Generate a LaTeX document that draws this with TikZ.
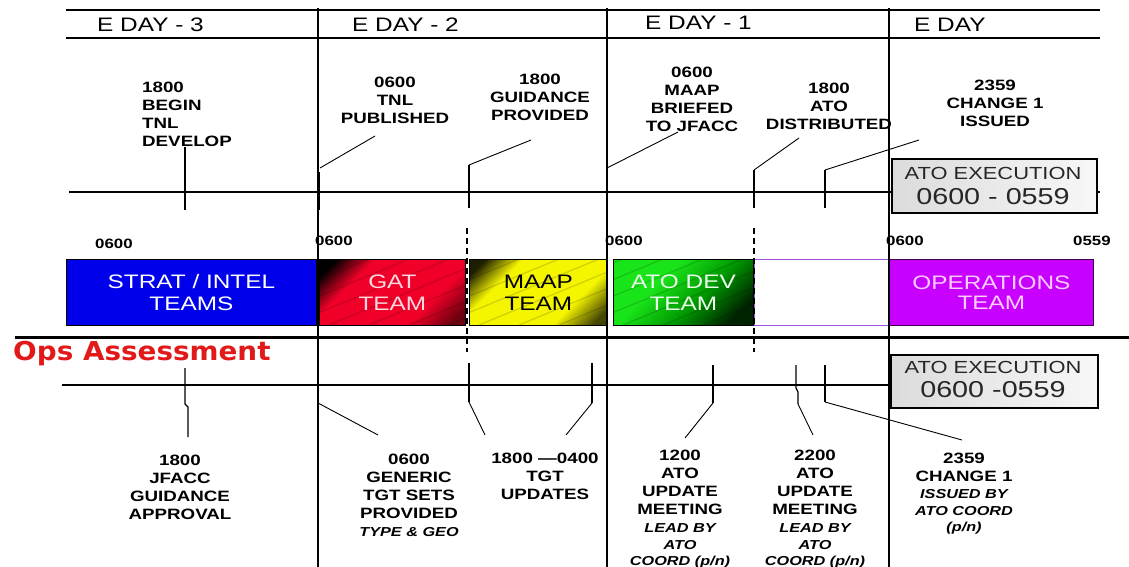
\documentclass[tikz,border=0pt]{standalone}
\usepackage{tikz}
\usepackage{fontspec}
\setmainfont{Liberation Sans}[FakeStretch=1.25]
\newfontfamily\opsfont{DejaVu Sans}[FakeStretch=1.07]
\definecolor{barblue}{RGB}{0,0,235}
\definecolor{gatred}{RGB}{240,0,40}
\definecolor{gatdark}{RGB}{110,0,15}
\definecolor{maapyel}{RGB}{245,245,0}
\definecolor{maapdark}{RGB}{70,70,0}
\definecolor{maapblk}{RGB}{30,30,0}
\definecolor{atogrn}{RGB}{25,228,25}
\definecolor{atomid}{RGB}{0,150,0}
\definecolor{atodark}{RGB}{0,35,0}
\definecolor{opsmag}{RGB}{200,0,255}
\definecolor{emptyvio}{RGB}{160,80,225}
\definecolor{opsred}{RGB}{225,25,25}
\definecolor{gatlbl}{RGB}{255,215,225}
\definecolor{opslbl}{RGB}{255,205,255}
\pgfdeclarehorizontalshading{gatsh}{100bp}{color(0bp)=(black); color(20bp)=(black); color(33bp)=(gatred); color(66bp)=(gatred); color(80bp)=(gatdark); color(100bp)=(gatdark)}
\pgfdeclarehorizontalshading{maapsh}{100bp}{color(0bp)=(maapblk); color(20bp)=(maapblk); color(33bp)=(maapyel); color(66bp)=(maapyel); color(80bp)=(maapdark); color(100bp)=(maapdark)}
\pgfdeclarehorizontalshading{atosh}{100bp}{color(0bp)=(atogrn); color(38bp)=(atogrn); color(58bp)=(atomid); color(76bp)=(atodark); color(100bp)=(atodark)}
\newcommand\lblit[1]{{\fontsize{13}{18}\selectfont\bfseries\itshape #1}}
\begin{document}
\begin{tikzpicture}[x=1pt,y=-1pt,
  line/.style={line width=1.3pt},
  hdr/.style={font=\fontsize{19.5}{22}\selectfont, anchor=base west, inner sep=0},
  lab/.style={font=\fontsize{15}{18}\selectfont\bfseries, align=center, anchor=north, inner sep=0},
  tm/.style={font=\fontsize{13.5}{14}\selectfont\bfseries, anchor=base west, inner sep=0},
  bar/.style={draw=black, line width=0.8pt, anchor=north west, minimum height=66pt, inner sep=0,
    font=\fontsize{19.5}{22}\selectfont, align=center},
  exbox/.style={draw=black, line width=1.8pt, left color=black!14, right color=black!3,
    anchor=north west, inner sep=0},
  extxt/.style={font=\fontsize{17.5}{20}\selectfont, text=black!85, inner sep=0},
  exnum/.style={font=\fontsize{23}{24}\selectfont, text=black!85, inner sep=0},
  tick/.style={line width=1.3pt},
  leader/.style={line width=0.9pt},
  dashv/.style={line width=1.3pt, dash pattern=on 6pt off 4pt},
  stripe/.style={black, opacity=.15, line width=1.2pt}
]
\useasboundingbox (0,0) rectangle (1129,567);

% ---- team bars
\node[bar, fill=barblue, minimum width=250pt, text=white] (blue) at (66,259) {STRAT / INTEL\\TEAMS};
\node[bar, shading=gatsh, shading angle=-45, minimum width=146pt] (gat) at (319,259) {};
\node[bar, shading=maapsh, shading angle=-45, minimum width=138pt] (maap) at (469,259) {};
\node[bar, shading=atosh, shading angle=-45, minimum width=140pt] (atodev) at (613,259) {};
\node[bar, draw=emptyvio, fill=white, line width=1pt, minimum width=135pt] (empty) at (754,259) {};
\node[bar, draw=black!70!opsmag, fill=opsmag, minimum width=204pt, text=opslbl,
  font=\fontsize{19.5}{20}\selectfont] (opsteam) at (889,259) {OPERATIONS\\TEAM};
\begin{scope}
  \clip (gat.south west) rectangle (gat.north east);
  \foreach \k in {-150,-110,...,150} \draw[stripe] (319+\k,325) -- ++(160,-66);
\end{scope}
\begin{scope}
  \clip (maap.south west) rectangle (maap.north east);
  \foreach \k in {-150,-110,...,150} \draw[stripe] (469+\k,325) -- ++(160,-66);
\end{scope}
\begin{scope}
  \clip (atodev.south west) rectangle (atodev.north east);
  \foreach \k in {-150,-110,...,150} \draw[stripe] (613+\k,325) -- ++(160,-66);
\end{scope}
\node[font=\fontsize{19.5}{22}\selectfont, align=center, text=gatlbl, inner sep=0] (gatlab) at (gat.center) {GAT\\TEAM};
\node[font=\fontsize{19.5}{22}\selectfont, align=center, text=black, inner sep=0] (maaplab) at (maap.center) {MAAP\\TEAM};
\node[font=\fontsize{19.5}{22}\selectfont, align=center, text=white!92!green, inner sep=0] (atolab) at (atodev.center) {ATO DEV\\TEAM};

% ---- time labels above bars
\node[tm] (t1) at (95,248) {0600};
\node[tm] (t2) at (315,245) {0600};
\node[tm] (t3) at (605,245) {0600};
\node[tm] (t4) at (886,245) {0600};
\node[tm] (t5) at (1073,245) {0559};

% ---- grid lines
\draw[line] (66,10) -- (1100,10);
\draw[line] (66,38) -- (1100,38);
\draw[line] (318,8) -- (318,567);
\draw[line] (607,8) -- (607,567);
\draw[line] (889,8) -- (889,567);
\draw[line] (69,192) -- (1100,192);
\draw[line] (62,385) -- (892,385);
\draw[line width=3pt] (15,337) -- (1129,337);
\draw[dashv] (467,228) -- (467,352);
\draw[dashv] (754,228) -- (754,352);

% ---- headers
\node[hdr] (h3) at (97,32) {E DAY - 3};
\node[hdr] (h2) at (352,32) {E DAY - 2};
\node[hdr] (h1) at (645,30) {E DAY - 1};
\node[hdr] (h0) at (914,32) {E DAY};

% ---- top labels
\node[lab, align=left, anchor=north west] (begin) at (142,82) {1800\\BEGIN\\TNL\\DEVELOP};
\node[lab] (tnl) at (395,77) {0600\\TNL\\PUBLISHED};
\node[lab] (guid) at (540,74) {1800\\GUIDANCE\\PROVIDED};
\node[lab] (maapbr) at (692,67) {0600\\MAAP\\BRIEFED\\TO JFACC};
\node[lab] (dist) at (829,83) {1800\\ATO\\DISTRIBUTED};
\node[lab] (chg) at (995,80) {2359\\CHANGE 1\\ISSUED};

% ---- top ticks and leaders
\coordinate (bA) at (185,147); \coordinate (bB) at (185,210);
\draw[tick] (bA) -- (bB);
\coordinate (tnlA) at (375,136); \coordinate (tnlB) at (320,168);
\coordinate (tnlT) at (318,172); \coordinate (tnlU) at (318,210);
\draw[leader] (tnlA) -- (tnlB);
\draw[line width=3pt] (tnlT) -- (tnlU);
\coordinate (guA) at (531,140); \coordinate (guB) at (469,165); \coordinate (guC) at (469,208);
\draw[leader] (guA) -- (guB); \draw[tick] (guB) -- (guC);
\coordinate (maA) at (678,132); \coordinate (maB) at (607,168);
\draw[leader] (maA) -- (maB);
\coordinate (diA) at (799,138); \coordinate (diB) at (754,170); \coordinate (diC) at (754,208);
\draw[leader] (diA) -- (diB); \draw[tick] (diB) -- (diC);
\coordinate (chA) at (919,140); \coordinate (chB) at (825,170); \coordinate (chC) at (825,208);
\draw[leader] (chA) -- (chB); \draw[tick] (chB) -- (chC);

% ---- ATO execution boxes
\node[exbox, minimum width=205pt, minimum height=54pt] (exA) at (891,158) {};
\node[extxt] (exA1) at (993,173) {ATO EXECUTION};
\node[exnum] (exA2) at (993,197) {0600 - 0559};
\node[exbox, minimum width=207pt, minimum height=53pt] (exB) at (890,354) {};
\node[extxt] (exB1) at (993,367) {ATO EXECUTION};
\node[exnum] (exB2) at (993,390) {0600 -0559};

% ---- Ops Assessment
\node[font=\opsfont\fontsize{26}{30}\selectfont\bfseries, text=opsred, anchor=base west, inner sep=0] (ops) at (13,360) {Ops Assessment};

% ---- bottom labels
\node[lab] (jfacc) at (180,455) {1800\\JFACC\\GUIDANCE\\APPROVAL};
\node[lab] (gen) at (409,454) {0600\\GENERIC\\TGT SETS\\PROVIDED\\\lblit{TYPE \& GEO}};
\node[lab] (tgt) at (545,453) {1800 —0400\\TGT\\UPDATES};
\node[lab] (upd1) at (680,450) {1200\\ATO\\UPDATE\\MEETING\\\lblit{LEAD BY}\\[-1pt]\lblit{ATO}\\[-2pt]\lblit{COORD (p/n)}};
\node[lab] (upd2) at (815,450) {2200\\ATO\\UPDATE\\MEETING\\\lblit{LEAD BY}\\[-1pt]\lblit{ATO}\\[-2pt]\lblit{COORD (p/n)}};
\node[lab] (chg2) at (964,453) {2359\\CHANGE 1\\[-1pt]\lblit{ISSUED BY}\\[-1pt]\lblit{ATO COORD}\\[-2pt]\lblit{(p/n)}};

% ---- bottom ticks and leaders
\coordinate (jA) at (185,368); \coordinate (jB) at (185,404); \coordinate (jC) at (188,407); \coordinate (jD) at (188,437);
\draw[tick] (jA) -- (jB) -- (jC) -- (jD);
\coordinate (gA) at (318,403); \coordinate (gB) at (378,435);
\draw[leader] (gA) -- (gB);
\coordinate (u1A) at (469,363); \coordinate (u1B) at (469,402); \coordinate (u1C) at (485,435);
\draw[tick] (u1A) -- (u1B); \draw[leader] (u1B) -- (u1C);
\coordinate (u2A) at (592,363); \coordinate (u2B) at (592,403); \coordinate (u2C) at (566,435);
\draw[tick] (u2A) -- (u2B); \draw[leader] (u2B) -- (u2C);
\coordinate (m1A) at (713,365); \coordinate (m1B) at (713,403); \coordinate (m1C) at (685,438);
\draw[tick] (m1A) -- (m1B); \draw[leader] (m1B) -- (m1C);
\coordinate (m2A) at (796,365); \coordinate (m2B) at (796,388); \coordinate (m2C) at (798,392); \coordinate (m2D) at (798,404); \coordinate (m2E) at (813,435);
\draw[tick] (m2A) -- (m2B) -- (m2C) -- (m2D); \draw[leader] (m2D) -- (m2E);
\coordinate (c2A) at (825,365); \coordinate (c2B) at (825,402); \coordinate (c2C) at (962,440);
\draw[tick] (c2A) -- (c2B); \draw[leader] (c2B) -- (c2C);
\end{tikzpicture}
\end{document}
